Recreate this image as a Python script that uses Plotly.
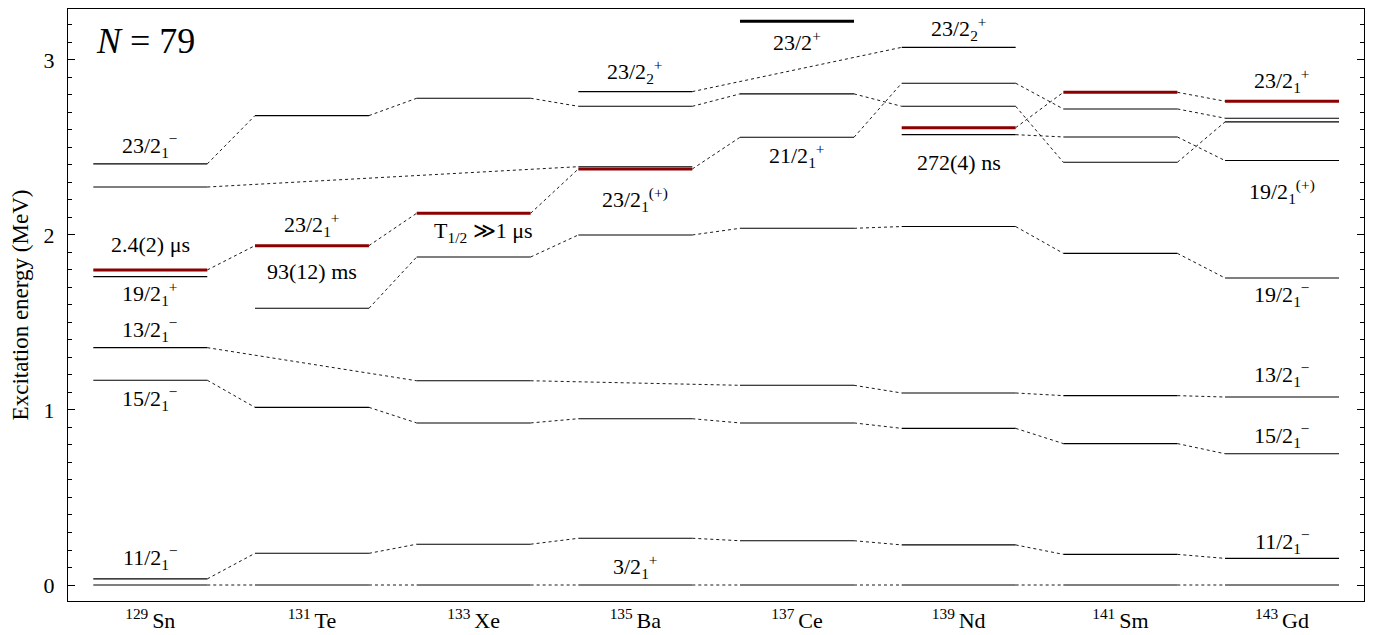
import plotly.graph_objects as go

# ---------------- data ----------------
nuclei = ["<sup>129 </sup>Sn", "<sup>131 </sup>Te", "<sup>133 </sup>Xe", "<sup>135 </sup>Ba",
          "<sup>137 </sup>Ce", "<sup>139 </sup>Nd", "<sup>141 </sup>Sm", "<sup>143 </sup>Gd"]

levels_129Sn = [0.0, 0.035, 1.170, 1.356, 1.762, 2.274, 2.406]
levels_131Te = [0.0, 0.181, 1.015, 1.581, 2.682]
levels_133Xe = [0.0, 0.233, 0.926, 1.167, 1.874, 2.781]
levels_135Ba = [0.0, 0.267, 0.950, 2.000, 2.390, 2.735, 2.819]
levels_137Ce = [0.0, 0.253, 0.926, 1.141, 2.038, 2.558, 2.806]
levels_139Nd = [0.0, 0.229, 0.895, 1.097, 2.048, 2.573, 2.735, 2.867, 3.072]
levels_141Sm = [0.0, 0.175, 0.808, 1.082, 1.895, 2.415, 2.560, 2.720]
levels_143Gd = [0.0, 0.152, 0.750, 1.074, 1.754, 2.425, 2.646, 2.667]
all_levels = [levels_129Sn, levels_131Te, levels_133Xe, levels_135Ba,
              levels_137Ce, levels_139Nd, levels_141Sm, levels_143Gd]

# isomeric 23/2+ states (red)
isomer_nucleus = [0, 1, 2, 3, 5, 6, 7]
isomer_energy = [1.800, 1.939, 2.124, 2.377, 2.613, 2.815, 2.764]

# new state (thick black)
new_nucleus = [4]
new_energy = [3.221]

# connected level sequences: list of (nucleus index, energy)
chains = [
    [(0, 0.0), (1, 0.0), (2, 0.0), (3, 0.0), (4, 0.0), (5, 0.0), (6, 0.0), (7, 0.0)],
    [(0, 0.035), (1, 0.181), (2, 0.233), (3, 0.267), (4, 0.253), (5, 0.229), (6, 0.175), (7, 0.152)],
    [(0, 1.170), (1, 1.015), (2, 0.926), (3, 0.950), (4, 0.926), (5, 0.895), (6, 0.808), (7, 0.750)],
    [(0, 1.356), (2, 1.167), (4, 1.141), (5, 1.097), (6, 1.082), (7, 1.074)],
    [(1, 1.581), (2, 1.874), (3, 2.000), (4, 2.038), (5, 2.048), (6, 1.895), (7, 1.754)],
    [(0, 1.800), (1, 1.939), (2, 2.124), (3, 2.377), (4, 2.558), (5, 2.867), (6, 2.720), (7, 2.667)],
    [(0, 2.406), (1, 2.682), (2, 2.781), (3, 2.735), (4, 2.806), (5, 2.735), (6, 2.415), (7, 2.646)],
    [(0, 2.274), (3, 2.390)],
    [(3, 2.819), (5, 3.072)],
    [(5, 2.613), (6, 2.815), (7, 2.764)],
    [(5, 2.573), (6, 2.560), (7, 2.425)],
]

# level labels: (nucleus index, energy of level, text)
label_nucleus = [0, 0, 0, 0, 0, 0, 1, 1, 2, 3, 3, 3, 4, 4, 5, 5, 7, 7, 7, 7, 7, 7]
label_energy = [2.406, 1.800, 1.762, 1.356, 1.170, 0.035, 1.939, 1.939, 2.124, 2.819, 2.377, 0.0,
                3.221, 2.558, 3.072, 2.573, 2.764, 2.425, 1.754, 1.074, 0.750, 0.152]
label_text = [
    "23/2<sub>1</sub><sup>−</sup>", "2.4(2) μs", "19/2<sub>1</sub><sup>+</sup>",
    "13/2<sub>1</sub><sup>−</sup>", "15/2<sub>1</sub><sup>−</sup>", "11/2<sub>1</sub><sup>−</sup>",
    "23/2<sub>1</sub><sup>+</sup>", "93(12) ms",
    "T<sub>1/2</sub> ≫1 μs",
    "23/2<sub>2</sub><sup>+</sup>", "23/2<sub>1</sub><sup>(+)</sup>", "3/2<sub>1</sub><sup>+</sup>",
    "23/2<sup>+</sup>", "21/2<sub>1</sub><sup>+</sup>",
    "23/2<sub>2</sub><sup>+</sup>", "272(4) ns",
    "23/2<sub>1</sub><sup>+</sup>", "19/2<sub>1</sub><sup>(+)</sup>", "19/2<sub>1</sub><sup>−</sup>",
    "13/2<sub>1</sub><sup>−</sup>", "15/2<sub>1</sub><sup>−</sup>", "11/2<sub>1</sub><sup>−</sup>",
]
# ---------------- style / positions ----------------
label_dy = [18, 25, -17, 18, -18, 21, 21, -26, -19, 20, -31, 19, -20, -18, 19, -28, 21, -31, -16, 23, 18, 17]
label_dx = [0, 0, 0, 0, 0, 0, 0, 0, 9, 0, 0, 0, 0, 0, 0, 0, 0, 0, 0, 0, 0, 0]

HW = 0.3525
FONT = "Liberation Serif"
FS = 22

fig = go.Figure()


def segs(pairs):
    xs, ys = [], []
    for n, e in pairs:
        xs += [n - HW, n + HW, None]
        ys += [e, e, None]
    return xs, ys


# connectors
cx, cy = [], []
for ch in chains:
    for (n1, e1), (n2, e2) in zip(ch[:-1], ch[1:]):
        cx += [n1 + HW, n2 - HW, None]
        cy += [e1, e2, None]
fig.add_trace(go.Scatter(x=cx, y=cy, mode="lines",
                         line=dict(color="black", width=0.9, dash="dot"),
                         hoverinfo="skip", showlegend=False))

# normal levels
pairs = [(n, e) for n, lv in enumerate(all_levels) for e in lv]
x, y = segs(pairs)
fig.add_trace(go.Scatter(x=x, y=y, mode="lines", line=dict(color="black", width=1.1),
                         showlegend=False))

# isomers
x, y = segs(zip(isomer_nucleus, isomer_energy))
fig.add_trace(go.Scatter(x=x, y=y, mode="lines", line=dict(color="#8b0000", width=3),
                         showlegend=False))

# new state
x, y = segs(zip(new_nucleus, new_energy))
fig.add_trace(go.Scatter(x=x, y=y, mode="lines", line=dict(color="black", width=3),
                         showlegend=False))

for n, e, t, dy, dx in zip(label_nucleus, label_energy, label_text, label_dy, label_dx):
    fig.add_annotation(x=n, y=e, text=t, showarrow=False, xanchor="center", yanchor="middle",
                       yshift=dy, xshift=dx, font=dict(family=FONT, size=FS, color="black"))

fig.add_annotation(x=0, y=1, xref="paper", yref="paper", text="<i>N</i> = 79",
                   showarrow=False, xanchor="left", yanchor="top", xshift=26, yshift=-10,
                   font=dict(family=FONT, size=36, color="black"))

fig.update_layout(
    width=1369, height=627,
    margin=dict(l=60, r=13, t=1, b=34),
    paper_bgcolor="white", plot_bgcolor="white",
    font=dict(family=FONT, size=FS, color="black"),
    xaxis=dict(range=[-0.509, 7.507], tickmode="array", tickvals=list(range(len(nuclei))),
               ticktext=nuclei, showline=True, mirror=True, linecolor="black", linewidth=1,
               ticks="", showgrid=False, zeroline=False, tickfont=dict(size=22)),
    yaxis=dict(range=[-0.0914, 3.291], tickmode="array", tickvals=[0, 1, 2, 3],
               showline=True, mirror="ticks", linecolor="black", linewidth=1,
               ticks="inside", ticklen=7, tickcolor="black", tickwidth=1,
               minor=dict(dtick=0.1, tick0=0, ticks="inside", ticklen=4, tickcolor="black", showgrid=False),
               showgrid=False, zeroline=False, tickfont=dict(size=22), ticklabelstandoff=8,
               title=dict(text="Excitation energy (MeV)", font=dict(size=23), standoff=9)),
)

fig.write_html("out.html")
